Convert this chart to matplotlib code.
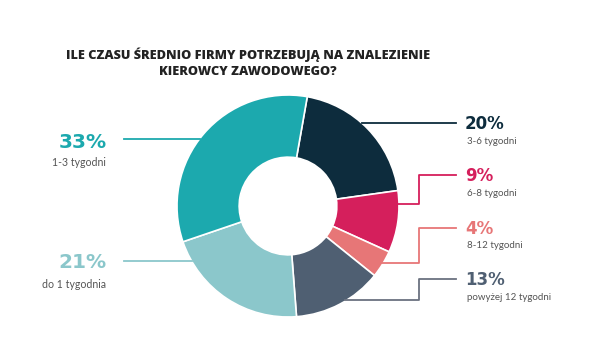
import numpy as np
import matplotlib.pyplot as plt

# data (clockwise from the top)
labels = ['3-6 tygodni', '6-8 tygodni', '8-12 tygodni', 'powyżej 12 tygodni',
          'do 1 tygodnia', '1-3 tygodni']
values = [20, 9, 4, 13, 21, 33]
colors = ['#0d2c3d', '#d51f5c', '#e77677', '#4f5f72', '#8bc7cb', '#1ca9ae']
title = 'ILE CZASU ŚREDNIO FIRMY POTRZEBUJĄ NA ZNALEZIENIE\nKIEROWCY ZAWODOWEGO?'

W, H = 616, 355
cx, cy, R = 288, 149, 111   # donut centre in pixel units (y from bottom)

fig = plt.figure(figsize=(W / 100, H / 100), dpi=100)
ax = fig.add_axes([0, 0, 1, 1])
wedges, _ = ax.pie(values, colors=colors, startangle=80, counterclock=False,
                   center=(cx, cy), radius=R,
                   wedgeprops=dict(width=R * 0.56, edgecolor='white', linewidth=1.2))
ax.set_xlim(0, W)
ax.set_ylim(0, H)
ax.set_aspect('equal')
ax.axis('off')

fig.text(0.403, 1 - 63 / H, title, ha='center', va='center', fontsize=9.2,
         fontweight='heavy', family='Open Sans', color='#222222', linespacing=1.4)


def edge_x(y_px, side):
    dy = (H - y_px) - cy
    return cx + side * np.sqrt(max(R ** 2 - dy ** 2, 0))


lw = 1.3
# right side labels: (index, line y, label y, start y)
right = [(0, 123, 124, 123), (1, 175, 176, 204), (2, 228, 229, 263), (3, 279, 280, 300)]
for i, ly, ty, sy in right:
    c = colors[i] if i != 3 else '#6b7280'
    if ly == sy:
        ax.plot([edge_x(sy, 1), 456], [H - ly, H - ly], color=c, lw=lw)
    else:
        ax.plot([edge_x(sy, 1) - 2, 419, 419, 456], [H - sy, H - sy, H - ly, H - ly],
                color=c, lw=lw)
    ax.text(465, H - ty, f'{values[i]}%', ha='left', va='center', fontsize=12,
            fontweight='bold', family='DejaVu Sans', color=colors[i])
    ax.text(467, H - ty - 17, labels[i], ha='left', va='center', fontsize=7,
            family='Lato', color='#555555')

# left side labels
left = [(5, 139, 142, 163), (4, 261, 262, 284)]
for i, ly, ty, sy in left:
    ax.plot([124, edge_x(ly, -1)], [H - ly, H - ly], color=colors[i], lw=lw)
    ax.text(107, H - ty, f'{values[i]}%', ha='right', va='center', fontsize=14.5,
            fontweight='bold', family='DejaVu Sans', color=colors[i])
    ax.text(106, H - sy, labels[i], ha='right', va='center', fontsize=7.6,
            family='Lato', color='#555555')

fig.savefig('out.png', dpi=100)
